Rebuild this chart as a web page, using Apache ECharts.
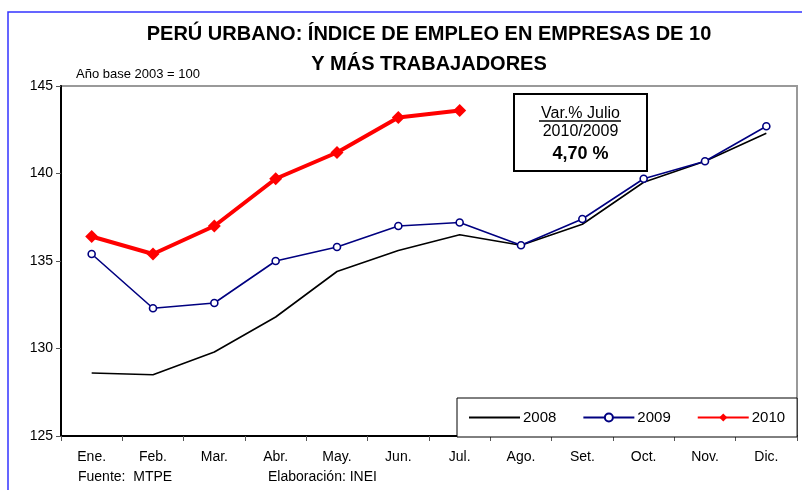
<!DOCTYPE html>
<html>
<head>
<meta charset="utf-8">
<script src="https://cdn.jsdelivr.net/npm/echarts@6/dist/echarts.min.js"></script>
<style>
  html, body { margin: 0; padding: 0; background: #fff; }
  #chart { width: 802px; height: 490px; }
</style>
</head>
<body>
<div id="chart"></div>
<script>
// Índice de empleo, empresas de 10 y más trabajadores (año base 2003 = 100)
const months = ['Ene.', 'Feb.', 'Mar.', 'Abr.', 'May.', 'Jun.', 'Jul.', 'Ago.', 'Set.', 'Oct.', 'Nov.', 'Dic.'];
const serie2008 = [128.6, 128.5, 129.8, 131.8, 134.4, 135.6, 136.5, 135.9, 137.1, 139.5, 140.7, 142.3];
const serie2009 = [135.4, 132.3, 132.6, 135.0, 135.8, 137.0, 137.2, 135.9, 137.4, 139.7, 140.7, 142.7];
const serie2010 = [136.4, 135.4, 137.0, 139.7, 141.2, 143.2, 143.6];
const yTicks = { min: 125, max: 145, step: 5 };
const variacion = '4,70 %';

const FONT = '"Liberation Sans", Arial, sans-serif';
const chart = echarts.init(document.getElementById('chart'));

chart.setOption({
  animation: false,
  backgroundColor: '#fff',
  textStyle: { fontFamily: FONT },
  title: {
    text: 'PERÚ URBANO: ÍNDICE DE EMPLEO EN EMPRESAS DE 10\nY MÁS TRABAJADORES',
    left: 424, top: 14, textAlign: 'center',
    textStyle: { fontFamily: FONT, fontWeight: 'bold', fontSize: 20, lineHeight: 30, color: '#000' }
  },
  grid: {
    left: 61, top: 86, right: 5, bottom: 54,
    show: true, borderColor: '#999', borderWidth: 2, backgroundColor: '#fff'
  },
  legend: {
    left: 457, top: 398,
    padding: [12, 12, 12, 11],
    itemGap: 26, itemWidth: 51, itemHeight: 10,
    backgroundColor: '#fff', borderColor: '#000', borderWidth: 1,
    textStyle: { fontFamily: FONT, fontSize: 15, color: '#000', padding: [0, 0, 0, -2] },
    data: [
      { name: '2008', itemStyle: { opacity: 0 } },
      { name: '2009' },
      { name: '2010' }
    ]
  },
  xAxis: {
    type: 'category', data: months, boundaryGap: true,
    axisLine: { lineStyle: { color: '#000', width: 2 } },
    axisTick: { show: true, interval: 0, length: 5, lineStyle: { color: '#555' } },
    axisLabel: { color: '#000', fontSize: 14, margin: 14, fontFamily: FONT, interval: 0 },
    splitLine: { show: false }
  },
  yAxis: {
    type: 'value', min: yTicks.min, max: yTicks.max, interval: yTicks.step,
    axisLine: { show: true, lineStyle: { color: '#000', width: 2 } },
    axisTick: { show: true, length: 5, lineStyle: { color: '#555' } },
    axisLabel: { color: '#000', fontSize: 14, margin: 8, fontFamily: FONT },
    splitLine: { show: false }
  },
  series: [
    {
      name: '2008', type: 'line', data: serie2008, showSymbol: false, symbol: 'none',
      lineStyle: { color: '#000', width: 1.6 }, itemStyle: { color: '#000' }, z: 2
    },
    {
      name: '2009', type: 'line', data: serie2009,
      symbol: 'circle', symbolSize: 7,
      lineStyle: { color: '#000080', width: 1.6 },
      itemStyle: { color: '#fff', borderColor: '#000080', borderWidth: 1.6 }, z: 3
    },
    {
      name: '2010', type: 'line', data: serie2010,
      symbol: 'diamond', symbolSize: 13,
      lineStyle: { color: '#ff0000', width: 4 },
      itemStyle: { color: '#ff0000' }, z: 4
    }
  ],
  graphic: [
    { type: 'rect', shape: { x: 8, y: 12, width: 800, height: 500 }, style: { fill: 'none', stroke: '#3333ff', lineWidth: 1.5 }, silent: true, z: -1 },
    { type: 'text', left: 76, top: 68, style: { text: 'Año base 2003 = 100', font: '13px ' + FONT, fill: '#000' } },
    { type: 'text', left: 78, top: 470, style: { text: 'Fuente:  MTPE', font: '14px ' + FONT, fill: '#000' } },
    { type: 'text', left: 268, top: 470, style: { text: 'Elaboración: INEI', font: '14px ' + FONT, fill: '#000' } },
    {
      type: 'group', left: 513, top: 93, z: 10,
      children: [
        { type: 'rect', shape: { x: 0, y: 0, width: 133, height: 77 }, style: { fill: '#fff', stroke: '#000', lineWidth: 2 } },
        { type: 'text', x: 66.5, y: 19.5, style: { text: 'Var.% Julio', font: '16px ' + FONT, fill: '#000', textAlign: 'center', textVerticalAlign: 'middle' } },
        { type: 'line', shape: { x1: 25, y1: 27, x2: 107, y2: 27 }, style: { stroke: '#000', lineWidth: 1.3 } },
        { type: 'text', x: 66.5, y: 38, style: { text: '2010/2009', font: '16px ' + FONT, fill: '#000', textAlign: 'center', textVerticalAlign: 'middle' } },
        { type: 'text', x: 66.5, y: 60, style: { text: variacion, font: 'bold 18px ' + FONT, fill: '#000', textAlign: 'center', textVerticalAlign: 'middle' } }
      ]
    }
  ]
});
</script>
</body>
</html>
